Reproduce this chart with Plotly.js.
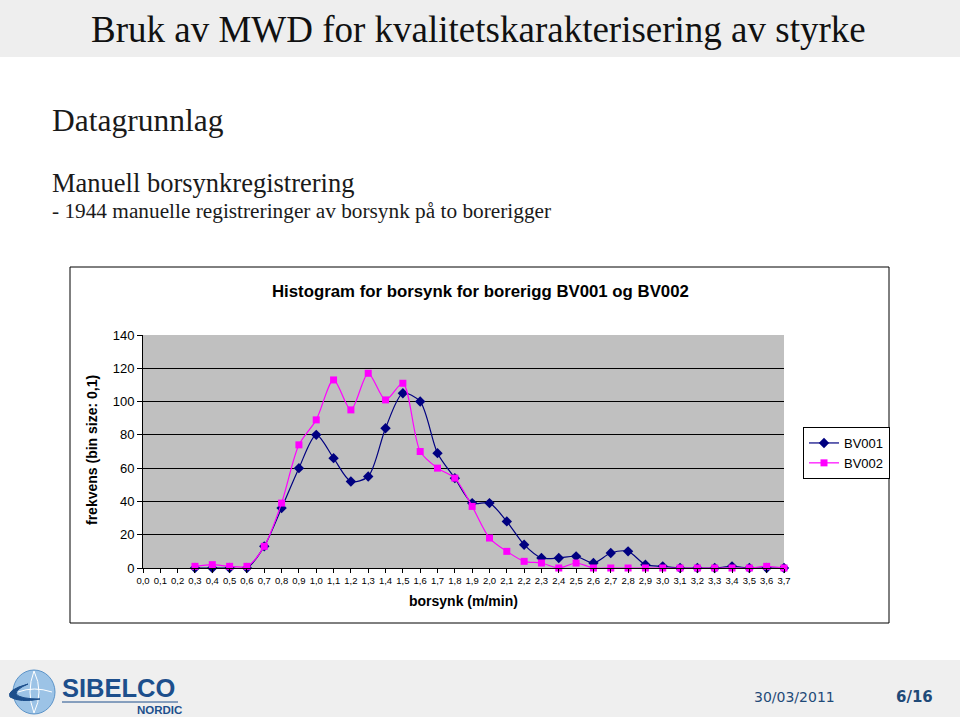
<!DOCTYPE html>
<html>
<head>
<meta charset="utf-8">
<script src="https://cdn.plot.ly/plotly-3.0.1.min.js"></script>
<style>
html,body{margin:0;padding:0;background:#fff;}
#chart{width:960px;height:717px;}
</style>
</head>
<body>
<div id="chart"></div>
<script>
// ---- data ----
const borsynk = [0.0,0.1,0.2,0.3,0.4,0.5,0.6,0.7,0.8,0.9,1.0,1.1,1.2,1.3,1.4,1.5,1.6,1.7,1.8,1.9,
                 2.0,2.1,2.2,2.3,2.4,2.5,2.6,2.7,2.8,2.9,3.0,3.1,3.2,3.3,3.4,3.5,3.6,3.7];
const bv001 = [null,null,null,0,0,0,0,13,36,60,80,66,52,55,84,105,100,69,54,39,
               39,28,14,6,6,7,3,9,10,2,1,0,0,0,1,0,0,0];
const bv002 = [null,null,null,1,2,1,1,13,39,74,89,113,95,117,101,111,70,60,54,37,
               18,10,4,3,0,3,0,0,0,0,0,0,0,0,0,0,1,0];
const seriesNames = ['BV001','BV002'];
const yTicks = [0,20,40,60,80,100,120,140];

const W = 960, H = 717;
const px = x => x / W;
const py = y => 1 - y / H;

const traces = [
  {
    x: borsynk, y: bv001, name: seriesNames[0], type: 'scatter', mode: 'lines+markers',
    line: {color: '#000080', width: 1.2, shape: 'spline', smoothing: 0.8},
    marker: {symbol: 'diamond', size: 8, color: '#000080'},
    cliponaxis: false
  },
  {
    x: borsynk, y: bv002, name: seriesNames[1], type: 'scatter', mode: 'lines+markers',
    line: {color: '#ff00ff', width: 1.2, shape: 'spline', smoothing: 0.8},
    marker: {symbol: 'square', size: 7, color: '#ff00ff'},
    cliponaxis: false
  }
];

const serif = 'Liberation Serif, Times New Roman, serif';
const sans = 'Liberation Sans, Arial, sans-serif';
const verd = 'DejaVu Sans, Verdana, sans-serif';

function ann(text, x, y, size, family, color, opts) {
  return Object.assign({
    text: text, x: px(x), y: py(y), xref: 'paper', yref: 'paper',
    showarrow: false, xanchor: 'left', yanchor: 'middle',
    font: {size: size, family: family, color: color}
  }, opts || {});
}

const annotations = [
  ann('Bruk av MWD for kvalitetskarakterisering av styrke', 89, 29, 37, serif, '#111111'),
  ann('Datagrunnlag', 50, 120, 31.5, serif, '#1a1a1a'),
  ann('Manuell borsynkregistrering', 50, 183, 26.5, serif, '#1a1a1a'),
  ann('- 1944 manuelle registreringer av borsynk på to borerigger', 50, 211, 21.3, serif, '#1a1a1a'),
  ann('<b>Histogram for borsynk for borerigg BV001 og BV002</b>', 480, 291, 16.8, sans, '#000', {xanchor: 'center'}),
  ann('<b>frekvens (bin size: 0,1)</b>', 92, 450, 14, sans, '#000', {xanchor: 'center', textangle: -90}),
  ann('<b>borsynk (m/min)</b>', 463, 601, 14, sans, '#000', {xanchor: 'center'}),
  ann('<b>SIBELCO</b>', 60, 688, 25.5, sans, '#1d4f8c'),
  ann('<b>NORDIC</b>', 135, 710, 11.5, sans, '#1d4f8c'),
  ann('30/03/2011', 752, 697, 14, verd, '#1f4a78'),
  ann('<b>6/16</b>', 894, 697, 15, verd, '#1f4a78')
];

const shapes = [
  {type: 'rect', xref: 'paper', yref: 'paper', x0: 0, x1: 1, y0: py(57), y1: 1,
   fillcolor: '#eeeeee', line: {width: 0}, layer: 'below'},
  {type: 'rect', xref: 'paper', yref: 'paper', x0: 0, x1: 1, y0: 0, y1: py(660),
   fillcolor: '#efefef', line: {width: 0}, layer: 'below'},
  {type: 'rect', xref: 'paper', yref: 'paper', x0: px(70), x1: px(889), y0: py(623), y1: py(267),
   fillcolor: 'rgba(0,0,0,0)', line: {color: '#000', width: 1}, layer: 'below'},
  // logo globe
  {type: 'circle', xref: 'paper', yref: 'paper', x0: px(13), x1: px(55), y0: py(714), y1: py(670),
   fillcolor: '#9cc3e6', line: {color: '#5b93c8', width: 1}, layer: 'above'},
  {type: 'path', xref: 'paper', yref: 'paper',
   path: `M ${px(18)} ${py(692)} Q ${px(34)} ${py(686)} ${px(52)} ${py(692)}`,
   line: {color: '#ffffff', width: 1}},
  {type: 'path', xref: 'paper', yref: 'paper',
   path: `M ${px(34)} ${py(671)} Q ${px(26)} ${py(692)} ${px(34)} ${py(713)}`,
   line: {color: '#ffffff', width: 1}},
  {type: 'path', xref: 'paper', yref: 'paper',
   path: `M ${px(34)} ${py(671)} Q ${px(44)} ${py(692)} ${px(34)} ${py(713)}`,
   line: {color: '#ffffff', width: 1}},
  {type: 'path', xref: 'paper', yref: 'paper',
   path: `M ${px(28)} ${py(684)} Q ${px(6)} ${py(690)} ${px(10)} ${py(697)} Q ${px(20)} ${py(703)} ${px(40)} ${py(699)} Q ${px(20)} ${py(699)} ${px(16)} ${py(694)} Q ${px(16)} ${py(689)} ${px(28)} ${py(684)} Z`,
   fillcolor: '#1d4f8c', line: {color: '#1d4f8c', width: 1}},
  {type: 'line', xref: 'paper', yref: 'paper', x0: px(62), x1: px(178), y0: py(702), y1: py(702),
   line: {color: '#1d4f8c', width: 1}}
];

const layout = {
  width: W, height: H,
  margin: {l: 0, r: 0, t: 0, b: 0},
  paper_bgcolor: '#ffffff',
  plot_bgcolor: '#c0c0c0',
  separators: ', ',
  showlegend: true,
  legend: {
    x: px(803), y: py(427), xanchor: 'left', yanchor: 'top',
    bgcolor: '#ffffff', bordercolor: '#000', borderwidth: 1,
    font: {family: sans, size: 13, color: '#000'},
    itemwidth: 30, tracegroupgap: 0
  },
  xaxis: {
    domain: [px(143), px(784)],
    range: [0, 3.7],
    tickvals: borsynk, tickformat: '.1f',
    ticks: 'outside', ticklen: 4, tickcolor: '#000',
    showline: true, linecolor: '#000', linewidth: 1,
    showgrid: false, zeroline: false,
    tickfont: {family: sans, size: 9.5, color: '#000'},
    fixedrange: true
  },
  yaxis: {
    domain: [py(568), py(335)],
    range: [0, 140],
    tickvals: yTicks,
    ticks: 'outside', ticklen: 5, tickcolor: '#000',
    showline: true, linecolor: '#000', linewidth: 1,
    showgrid: true, gridcolor: '#000', gridwidth: 1,
    zeroline: false,
    tickfont: {family: sans, size: 13, color: '#000'},
    fixedrange: true
  },
  annotations: annotations,
  shapes: shapes
};

Plotly.newPlot('chart', traces, layout, {displayModeBar: false, staticPlot: true});
</script>
</body>
</html>
